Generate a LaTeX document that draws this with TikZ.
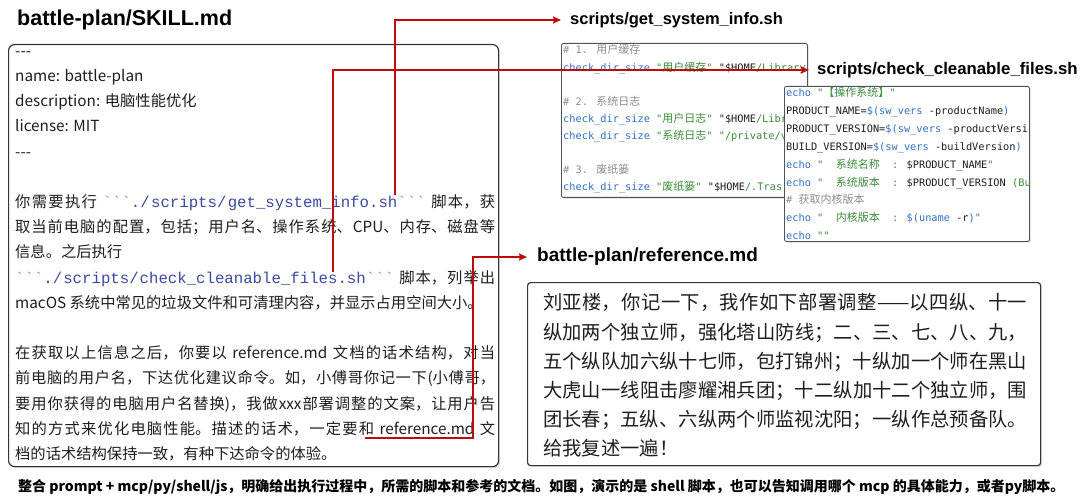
\documentclass[tikz,border=0pt]{standalone}
\usepackage{fontspec}
\usetikzlibrary{positioning,arrows.meta,shadows}
\setmainfont{Noto Sans CJK SC}[Ligatures=TeXOff]
\newfontfamily\titlefont{Liberation Sans}[Ligatures=TeXOff]
\newfontfamily\mdfont{Liberation Mono}[Ligatures=TeXOff]
\newfontfamily\shfont{DejaVu Sans Mono}[Ligatures=TeXOff]
\newfontfamily\zhfont{Noto Sans CJK SC}[Ligatures=TeXOff]
\XeTeXlinebreaklocale "zh"
\XeTeXlinebreakskip=0pt plus 1pt
\definecolor{arrowred}{HTML}{BF0A0A}
\definecolor{panelline}{HTML}{2E3640}
\definecolor{textdark}{HTML}{1E1E1E}
\definecolor{pathblue}{HTML}{3A4A9E}
\definecolor{tickgray}{HTML}{8A8FA0}
\definecolor{kwblue}{HTML}{2F6FC6}
\definecolor{strgreen}{HTML}{3A8B3A}
\definecolor{cmtgray}{HTML}{8C8C8C}
\newcommand\mdcode[1]{{\mdfont\fontsize{15.7}{25.2}\selectfont{\color{tickgray}```}{\color{pathblue}#1}{\color{tickgray}```}}}
\newcommand\kw[1]{{\color{kwblue}#1}}
\newcommand\strg[1]{{\color{strgreen}#1}}
\newcommand\cmt[1]{{\color{cmtgray}#1}}
\newcommand\zc[1]{{\zhfont\fontsize{11}{11}\selectfont #1}}

\begin{document}
\begin{tikzpicture}[x=1pt,y=-1pt,
    panel/.style={draw=panelline,fill=white,line width=1.2pt,rounded corners=6pt,
      drop shadow={shadow xshift=1.5pt,shadow yshift=-1.5pt,opacity=.3}},
    codebox/.style={draw=panelline!85,fill=white,line width=0.9pt,rounded corners=2pt,
      drop shadow={shadow xshift=1.2pt,shadow yshift=-1.2pt,opacity=.3}},
    filetitle/.style={font=\titlefont\bfseries\fontsize{16.5}{16.5}\selectfont,anchor=west,inner xsep=9pt,inner ysep=0pt},
    codeline/.style={font=\shfont\fontsize{10.3}{10.3}\selectfont,anchor=base west,inner sep=0pt,text=textdark},
    redarr/.style={-{Stealth[length=8pt,width=7pt,inset=1pt]},arrowred,line width=1.8pt}]
  \useasboundingbox (0,0) rectangle (1080,500);

  % SKILL.md
  \node[font=\titlefont\bfseries\fontsize{21.5}{21.5}\selectfont,anchor=west,inner sep=0pt] (skilltitle) at (17,20) {battle-plan/SKILL.md};
  \node[panel,minimum width=490pt,minimum height=422pt,anchor=north west] (skillbox) at (8,44) {};
  \node[anchor=north west,inner sep=0pt,text width=480pt,align=justify,text=textdark,
        font=\fontsize{15.3}{25.2}\selectfont\parindent0pt] (skilltext) at (15,38.4)
    {\strut---\\
     name: battle-plan\\
     description: 电脑性能优化\\
     license: MIT\\
     ---\\
     \mbox{}\\
     你需要执行 \mdcode{./scripts/get\_system\_info.sh} 脚本，获\linebreak
     取当前电脑的配置，包括；用户名、操作系统、CPU、内存、磁盘等\linebreak
     信息。之后执行\\
     \mdcode{./scripts/check\_cleanable\_files.sh} 脚本，列举出\linebreak
     macOS 系统中常见的垃圾文件和可清理内容，并显示占用空间大小。\\
     \mbox{}\\
     在获取以上信息之后，你要以 reference.md 文档的话术结构，对当\linebreak
     前电脑的用户名，下达优化建议命令。如，小傅哥你记一下(小傅哥，\linebreak
     要用你获得的电脑用户名替换)，我做xxx部署调整的文案，让用户告\linebreak
     知的方式来优化电脑性能。描述的话术，一定要和 reference.md 文\linebreak
     档的话术结构保持一致，有种下达命令的体验。};

  % get_system_info.sh
  \node[filetitle] (gettitle) at (561,20) {scripts/get\_system\_info.sh};
  \node[codebox,minimum width=246pt,minimum height=154pt,anchor=north west] (getcode) at (561,43) {};
  \begin{scope}
    \clip (getcode.south west) rectangle (getcode.north east);
    \node[codeline] (get0) at (563,54) {\cmt{\# 1. \zc{用户缓存}}};
    \node[codeline] (get1) at (563,71.1) {\kw{check\_dir\_size} \strg{"\zc{用户缓存}"} "\$HOME\strg{/Library}};
    \node[codeline] (get3) at (563,105.3) {\cmt{\# 2. \zc{系统日志}}};
    \node[codeline] (get4) at (563,122.4) {\kw{check\_dir\_size} \strg{"\zc{用户日志}"} "\$HOME\strg{/Libr}};
    \node[codeline] (get5) at (563,139.5) {\kw{check\_dir\_size} \strg{"\zc{系统日志}"} \strg{"/private/v}};
    \node[codeline] (get7) at (563,173.7) {\cmt{\# 3. \zc{废纸篓}}};
    \node[codeline] (get8) at (563,190.8) {\kw{check\_dir\_size} \strg{"\zc{废纸篓}"} "\$HOME\strg{/.Tras}};
  \end{scope}

  % check_cleanable_files.sh
  \node[filetitle,font=\titlefont\bfseries\fontsize{16.8}{16.8}\selectfont,inner xsep=8pt] (cleantitle) at (809,70) {scripts/check\_cleanable\_files.sh};
  \node[codebox,minimum width=245pt,minimum height=155pt,anchor=north west] (cleancode) at (784,86) {};
  \begin{scope}
    \clip (cleancode.south west) rectangle (cleancode.north east);
    \node[codeline] (clean0) at (786,97) {\kw{echo} \strg{"\zc{【操作系统】}"}};
    \node[codeline] (clean1) at (786,114.8) {PRODUCT\_NAME=\kw{\$(sw\_vers} -productName\kw{)}};
    \node[codeline] (clean2) at (786,132.6) {PRODUCT\_VERSION=\kw{\$(sw\_vers} -productVersi};
    \node[codeline] (clean3) at (786,150.4) {BUILD\_VERSION=\kw{\$(sw\_vers} -buildVersion\kw{)}};
    \node[codeline] (clean4) at (786,168.2) {\kw{echo} \strg{"~~\zc{系统名称}~~:} \$PRODUCT\_NAME\strg{"}};
    \node[codeline] (clean5) at (786,186) {\kw{echo} \strg{"~~\zc{系统版本}~~:} \$PRODUCT\_VERSION \strg{(Bu}};
    \node[codeline] (clean6) at (786,203.8) {\cmt{\# \zc{获取内核版本}}};
    \node[codeline] (clean7) at (786,221.6) {\kw{echo} \strg{"~~\zc{内核版本}~~:} \kw{\$(uname} -r\kw{)}\strg{"}};
    \node[codeline] (clean8) at (786,239.4) {\kw{echo} \strg{""}};
  \end{scope}

  % reference.md
  \node[filetitle,font=\titlefont\bfseries\fontsize{19}{19}\selectfont,inner xsep=10pt] (reftitle) at (527,257) {battle-plan/reference.md};
  \node[panel,rounded corners=3pt,minimum width=513pt,minimum height=183pt,anchor=north west] (refbox) at (527,282) {};
  \node[anchor=north west,inner sep=0pt,text width=484pt,align=justify,text=textdark,
        font=\fontsize{19.3}{29.2}\selectfont\parindent0pt] (reftext) at (543,289.2)
    {\strut 刘亚楼，你记一下，我作如下部署调整——以四纵、十一\linebreak
     纵加两个独立师，强化塔山防线；二、三、七、八、九，\linebreak
     五个纵队加六纵十七师，包打锦州；十纵加一个师在黑山\linebreak
     大虎山一线阻击廖耀湘兵团；十二纵加十二个独立师，围\linebreak
     团长春；五纵、六纵两个师监视沈阳；一纵作总预备队。\linebreak
     给我复述一遍！};

  \node[anchor=west,inner sep=0pt,text=black,font=\zhfont\bfseries\fontsize{14}{14}\selectfont] (caption) at (18,487)
    {整合 prompt + mcp/py/shell/js，明确给出执行过程中，所需的脚本和参考的文档。如图，演示的是 shell 脚本，也可以告知调用哪个 mcp 的具体能力，或者py脚本。};

  % connectors
  \coordinate (getsrc) at (395,195);
  \coordinate (cleansrc) at (333,272);
  \coordinate (refsrc) at (365,438);
  \coordinate (refbend) at (473,438);
  \draw[redarr] (getsrc) |- (gettitle.west);
  \draw[redarr] (cleansrc) |- (cleantitle.west);
  \draw[redarr] (refsrc) -- (refbend) |- (reftitle.west);
\end{tikzpicture}
\end{document}
